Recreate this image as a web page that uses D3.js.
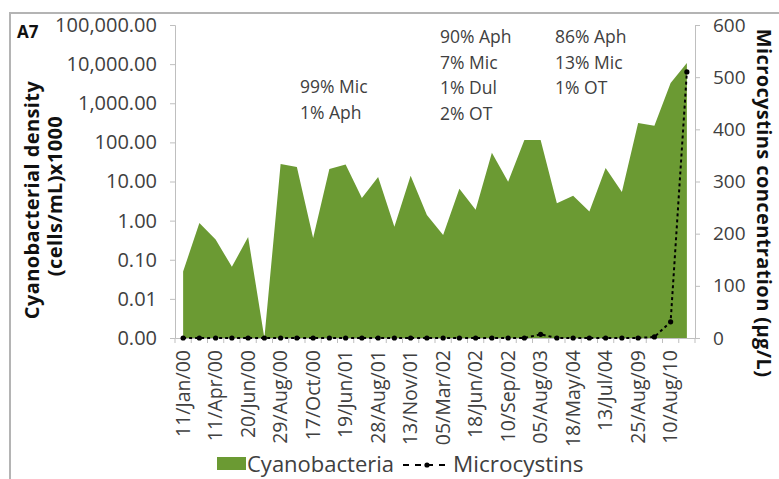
<!DOCTYPE html>
<html>
<head>
<meta charset="utf-8">
<script src="https://cdn.jsdelivr.net/npm/d3@7"></script>
<style>
  body { margin: 0; background: #fff; }
  text { font-family: "Open Sans", "Liberation Sans", sans-serif; }
</style>
</head>
<body>
<div id="chart"></div>
<script>
// x tick labels (every second sample is labelled)
const labels = ["11/Jan/00", "11/Apr/00", "20/Jun/00", "29/Aug/00", "17/Oct/00", "19/Jun/01",
  "28/Aug/01", "13/Nov/01", "05/Mar/02", "18/Jun/02", "10/Sep/02", "05/Aug/03",
  "18/May/04", "13/Jul/04", "25/Aug/09", "10/Aug/10"];

// cyanobacterial density, cells/mL x1000 (log axis), one value per sample
const cyanobacteria = [0.05, 0.87, 0.33, 0.066, 0.38, 0.001, 28, 23.5, 0.36, 21, 27, 3.8,
  13, 0.7, 14, 1.4, 0.43, 6.5, 1.9, 54, 9.8, 115, 115, 2.8, 4.3, 1.7, 22, 5.4, 315, 265, 3300, 10700];

// microcystins, ug/L (right axis)
const microcystins = [0, 0, 0, 0, 0, 0, 0, 0, 0, 0, 0, 0, 0, 0, 0, 0,
  0, 0, 0, 0, 0, 0, 7, 0, 0, 0, 0, 0, 0, 2, 31, 510];

const leftTicks = [0.001, 0.01, 0.1, 1, 10, 100, 1000, 10000, 100000];
const rightTicks = [0, 100, 200, 300, 400, 500, 600];

const notes = [
  ["99% Mic", "1% Aph"],
  ["90% Aph", "7% Mic", "1% Dul", "2% OT"],
  ["86% Aph", "13% Mic", "1% OT"]
];

const width = 779, height = 479;
const margin = { top: 25, right: 84, bottom: 141, left: 175 };
const green = "#6b9a33";
const axisColor = "#bfbfbf";
const labelColor = "#404040";

const svg = d3.select("#chart").append("svg")
  .attr("width", width)
  .attr("height", height);

// chart frame
svg.append("rect")
  .attr("x", 10).attr("y", 13)
  .attr("width", 800).attr("height", 500)
  .attr("fill", "none")
  .attr("stroke", "#b4b4b4")
  .attr("stroke-width", 2);

const plotW = width - margin.left - margin.right;
const plotH = height - margin.top - margin.bottom;
const g = svg.append("g").attr("transform", `translate(${margin.left},${margin.top})`);

const x = d3.scaleBand().domain(d3.range(cyanobacteria.length)).range([0, plotW]);
const cx = i => x(i) + x.bandwidth() / 2;
const yL = d3.scaleLog().domain([0.001, 100000]).range([plotH, 0]);
const yR = d3.scaleLinear().domain([0, 600]).range([plotH, 0]);

// area
const area = d3.area()
  .x((d, i) => cx(i))
  .y0(yL(0.001))
  .y1(d => yL(d));

g.append("path")
  .datum(cyanobacteria)
  .attr("fill", green)
  .attr("d", area);

// left axis
const axL = g.append("g")
  .call(d3.axisLeft(yL).tickValues(leftTicks).tickFormat(d3.format(",.2f")).tickSize(5).tickPadding(13));
axL.select(".domain").attr("stroke", axisColor);
axL.selectAll(".tick line").attr("stroke", axisColor);
axL.selectAll("text").attr("fill", labelColor).style("font-size", "20px");

// right axis
const axR = g.append("g")
  .attr("transform", `translate(${plotW},0)`)
  .call(d3.axisRight(yR).tickValues(rightTicks).tickSize(5).tickPadding(13));
axR.select(".domain").attr("stroke", axisColor);
axR.selectAll(".tick line").attr("stroke", axisColor);
axR.selectAll("text").attr("fill", labelColor).style("font-size", "19px");

// bottom axis
const axB = g.append("g")
  .attr("transform", `translate(0,${plotH})`)
  .call(d3.axisBottom(x).tickSize(0)
    .tickFormat(i => i % 2 === 0 ? labels[i / 2] : ""));
axB.select(".domain").attr("stroke", axisColor);
axB.selectAll("text")
  .attr("fill", labelColor)
  .style("font-size", "19.5px")
  .attr("text-anchor", "end")
  .attr("transform", "rotate(-90)")
  .attr("x", -12)
  .attr("y", 0)
  .attr("dy", "0.35em");

// category boundary ticks
g.append("g")
  .selectAll("line")
  .data(d3.range(cyanobacteria.length + 1))
  .join("line")
  .attr("x1", i => i * x.step())
  .attr("x2", i => i * x.step())
  .attr("y1", plotH)
  .attr("y2", plotH + 5)
  .attr("stroke", axisColor);

// microcystins line
const line = d3.line()
  .x((d, i) => cx(i))
  .y(d => yR(d));

g.append("path")
  .datum(microcystins)
  .attr("fill", "none")
  .attr("stroke", "#000")
  .attr("stroke-width", 2)
  .attr("stroke-dasharray", "3,3")
  .attr("d", line);

g.append("g")
  .selectAll("circle")
  .data(microcystins)
  .join("circle")
  .attr("cx", (d, i) => cx(i))
  .attr("cy", d => yR(d))
  .attr("r", 2.6)
  .attr("fill", "#000");

// annotations
const notePos = [[300, 93], [440, 43], [555, 43]];
notes.forEach((lines, k) => {
  const t = svg.append("text")
    .attr("x", notePos[k][0])
    .attr("y", notePos[k][1])
    .attr("fill", labelColor)
    .style("font-size", "17.5px");
  lines.forEach((s, j) => {
    t.append("tspan").attr("x", notePos[k][0]).attr("dy", j === 0 ? 0 : 25.7).text(s);
  });
});

// panel label
svg.append("text")
  .attr("x", 17).attr("y", 38)
  .attr("fill", "#111")
  .style("font-size", "17px")
  .style("font-weight", "bold")
  .text("A7");

// axis titles
const titleStyle = t => t
  .attr("text-anchor", "middle")
  .attr("fill", "#111")
  .style("font-size", "20px")
  .style("letter-spacing", "0.4px")
  .style("font-weight", "bold");

svg.append("text")
  .attr("transform", "translate(39,200) rotate(-90)")
  .call(titleStyle)
  .text("Cyanobacterial density");

svg.append("text")
  .attr("transform", "translate(62,196) rotate(-90)")
  .call(titleStyle)
  .text("(cells/mL)x1000");

svg.append("text")
  .attr("transform", "translate(757,203) rotate(90)")
  .call(titleStyle)
  .text("Microcystins concentration (\u00b5g/L)");

// legend
const leg = svg.append("g");
leg.append("rect")
  .attr("x", 217).attr("y", 457)
  .attr("width", 29).attr("height", 13)
  .attr("fill", green);
leg.append("text")
  .attr("x", 247).attr("y", 472)
  .attr("fill", labelColor)
  .style("font-size", "22px")
  .text("Cyanobacteria");
leg.append("line")
  .attr("x1", 403).attr("x2", 451)
  .attr("y1", 465).attr("y2", 465)
  .attr("stroke", "#000")
  .attr("stroke-width", 2)
  .attr("stroke-dasharray", "6,6");
leg.append("circle")
  .attr("cx", 427).attr("cy", 465)
  .attr("r", 2.6)
  .attr("fill", "#000");
leg.append("text")
  .attr("x", 453).attr("y", 472)
  .attr("fill", labelColor)
  .style("font-size", "22.5px")
  .text("Microcystins");
</script>
</body>
</html>
